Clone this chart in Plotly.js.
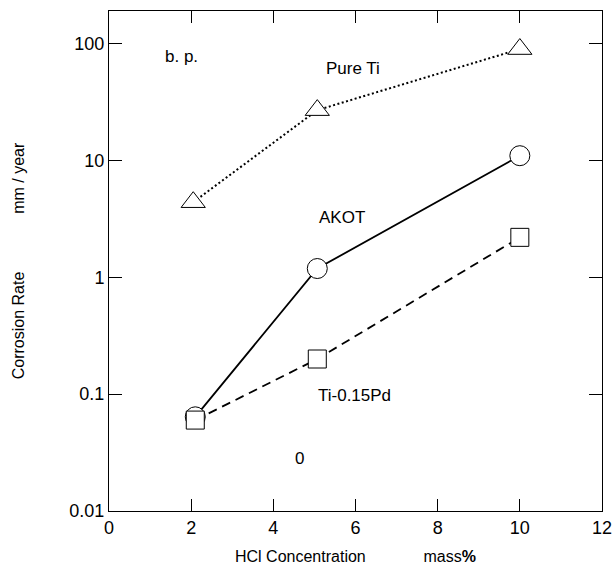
<!DOCTYPE html>
<html>
<head>
<meta charset="utf-8">
<script src="https://cdn.plot.ly/plotly-3.0.1.min.js"></script>
<style>html,body{margin:0;padding:0;background:#fff;}#chart{width:614px;height:565px;}</style>
</head>
<body>
<div id="chart"></div>
<script>
// HCl concentration (mass%)
const xPureTi = [2.05, 5.07, 10];
const yPureTi = [4.4, 27, 90];
const xAKOT = [2.1, 5.07, 10];
const yAKOT = [0.064, 1.19, 11];
const xTiPd = [2.1, 5.07, 10];
const yTiPd = [0.06, 0.2, 2.2];
const yTickVals = [0.01, 0.1, 1, 10, 100];
const yTickText = ['0.01', '0.1', '1', '10', '100'];
const labels = ['b. p.', 'Pure Ti', 'AKOT', 'Ti-0.15Pd', '0'];
const labelX = [1.76, 5.93, 5.68, 5.98, 4.63];
const labelY = [77, 61, 3.26, 0.098, 0.0284];

const FONT = 'Liberation Sans, Arial, sans-serif';
const NB = '\u00A0';
const sp = n => NB.repeat(n);

const markerStyle = (sym, size) => ({symbol: sym, size: size, color: '#fff', line: {color: '#000', width: 1}});

const data = [
  {x: xPureTi, y: yPureTi, mode: 'lines+markers', name: 'Pure Ti',
   line: {color: '#000', width: 2, dash: '2px,2.5px'}, marker: markerStyle('triangle-up', 21)},
  {x: xAKOT, y: yAKOT, mode: 'lines+markers', name: 'AKOT',
   line: {color: '#000', width: 1.8}, marker: markerStyle('circle', 20)},
  {x: xTiPd, y: yTiPd, mode: 'lines+markers', name: 'Ti-0.15Pd',
   line: {color: '#000', width: 1.8, dash: '9px,6px'}, marker: markerStyle('square', 18)}
];

const annotations = labels.map((t, i) => ({
  x: labelX[i], y: Math.log10(labelY[i]), xref: 'x', yref: 'y', text: t,
  showarrow: false, font: {family: FONT, size: 17, color: '#000'}
}));

const layout = {
  width: 614, height: 565,
  margin: {l: 109, r: 12, t: 11, b: 54},
  paper_bgcolor: '#fff', plot_bgcolor: '#fff',
  showlegend: false,
  font: {family: FONT, color: '#000'},
  xaxis: {
    range: [0, 12], dtick: 2, tick0: 0,
    showgrid: false, zeroline: false,
    showline: true, linecolor: '#000', linewidth: 1, mirror: 'ticks',
    ticks: 'inside', ticklen: 12, tickwidth: 1, tickcolor: '#000',
    tickfont: {family: FONT, size: 18, color: '#000'},
    title: {text: 'HCl Concentration' + sp(13) + 'mass<b>%</b>', font: {family: FONT, size: 16, color: '#000'}, standoff: 18}
  },
  yaxis: {
    type: 'log', range: [-2, 2.28],
    tickvals: yTickVals, ticktext: yTickText,
    showgrid: false, zeroline: false,
    showline: true, linecolor: '#000', linewidth: 1, mirror: 'ticks',
    ticks: 'inside', ticklen: 13, tickwidth: 1, tickcolor: '#000',
    tickfont: {family: FONT, size: 18, color: '#000'},
    title: {text: 'Corrosion Rate' + sp(13) + 'mm / year', font: {family: FONT, size: 16, color: '#000'}, standoff: 40}
  },
  annotations: annotations
};

Plotly.newPlot('chart', data, layout, {displayModeBar: false, staticPlot: true});
</script>
</body>
</html>
